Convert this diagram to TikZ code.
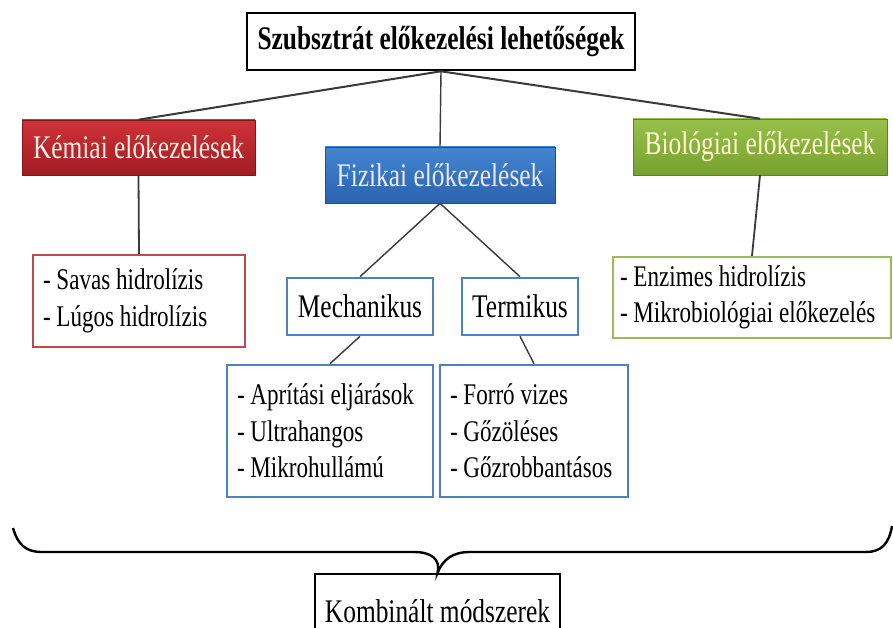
\documentclass[tikz,border=0pt]{standalone}
\usepackage{fontspec}
\setmainfont{Liberation Serif}[FakeStretch=0.77]
\usetikzlibrary{shadings}

\definecolor{redA}{HTML}{CF3238}
\definecolor{redB}{HTML}{A11D22}
\definecolor{blueA}{HTML}{4386D2}
\definecolor{blueB}{HTML}{2B62AE}
\definecolor{greenA}{HTML}{98C04B}
\definecolor{greenB}{HTML}{77A12E}
\definecolor{redLine}{HTML}{BE4B4B}
\definecolor{blueLine}{HTML}{4F81BD}
\definecolor{greenLine}{HTML}{9BBB59}
\definecolor{linkGray}{HTML}{3A3A3A}

\tikzset{
  headfont/.style={font=\fontsize{33}{38}\selectfont},
  listfont/.style={font=\fontsize{30}{36.5}\selectfont},
  topbox/.style={draw=black, line width=2.6pt, fill=white,
    font=\fontsize{33}{38}\selectfont\bfseries, inner sep=0pt},
  catbox/.style={headfont, inner sep=0pt, draw=#1B!80!black, line width=0.6pt,
    top color=#1A, bottom color=#1B},
  subbox/.style={draw=blueLine, line width=2.6pt, fill=white, headfont, inner sep=0pt},
  listbox/.style={listfont, fill=white, line width=2.2pt, inner xsep=10pt,
    inner ysep=0pt, align=flush left},
  link/.style={draw=linkGray, line width=1.4pt},
  brace/.style={draw=black, line width=2.4pt}
}

\begin{document}
\begin{tikzpicture}[x=1pt, y=-1pt]
\useasboundingbox[fill=white] (0,0) rectangle (893,628);

% top title
\node[topbox, minimum width=388pt, minimum height=57pt] (title) at (441,41.5)
  {Szubsztrát előkezelési lehetőségek};

% three categories
\node[catbox=red, minimum width=233pt, minimum height=55pt, text=white!90!orange]
  (kem) at (138.5,147.5) {Kémiai előkezelések};
\node[catbox=blue, minimum width=230pt, minimum height=56pt, text=white!92!blue]
  (fiz) at (440,175) {Fizikai előkezelések};
\node[catbox=green, minimum width=254pt, minimum height=56pt, text=white!82!yellow]
  (bio) at (760,147) {Biológiai előkezelések};

% chemical and biological lists
\node[listbox, draw=redLine, minimum height=92pt, text width=192pt]
  (sav) at (139,301) {- Savas hidrolízis\\- Lúgos hidrolízis};
\node[listbox, draw=greenLine, minimum height=81pt, text width=264pt, inner xsep=7pt]
  (enz) at (752,297.5) {- Enzimes hidrolízis\\- Mikrobiológiai előkezelés};

% physical sub-branches
\node[subbox, minimum width=146pt, minimum height=57pt] (mech) at (360,306.5) {Mechanikus};
\node[subbox, minimum width=116pt, minimum height=57pt] (term) at (520,306.5) {Termikus};

\node[listbox, draw=blueLine, line width=2.6pt, minimum height=132pt, text width=186pt]
  (apr) at (330,431) {- Aprítási eljárások\\- Ultrahangos\\- Mikrohullámú};
\node[listbox, draw=blueLine, line width=2.6pt, minimum height=132pt, text width=168pt]
  (forr) at (534,431) {- Forró vizes\\- Gőzöléses\\- Gőzrobbantásos};

% combined methods
\node[draw=black, line width=2.2pt, fill=white, headfont, inner sep=0pt,
  minimum width=245pt, minimum height=78pt, anchor=north] (komb) at (437.5,573)
  {\raisebox{5pt}{Kombinált módszerek}};

% connectors
\draw[link, line width=2pt] (title.south) -- (kem.north);
\draw[link, line width=2pt] (title.south) -- (bio.north);
\draw[link] (title.south) -- (fiz.north);
\draw[link, line width=1.8pt] (kem.south) -- (sav.north);
\draw[link, line width=1.8pt] (bio.south) -- (enz.north);
\draw[link] (fiz.south) -- (mech.north);
\draw[link] (fiz.south) -- (term.north);
\draw[link] (mech.south) -- (apr.north);
\draw[link] (term.south) -- (forr.north);

% brace gathering all branches
\coordinate (bl) at (13,528);
\coordinate (br) at (892,526);
\draw[brace] (bl) .. controls (18,545) and (26,552) .. (42,552)
  -- (414,552) .. controls (431,552) and (441,559) .. (komb.north)
  .. controls (443,559) and (453,552) .. (470,552)
  -- (866,552) .. controls (881,552) and (889,544) .. (br);
\end{tikzpicture}
\end{document}
